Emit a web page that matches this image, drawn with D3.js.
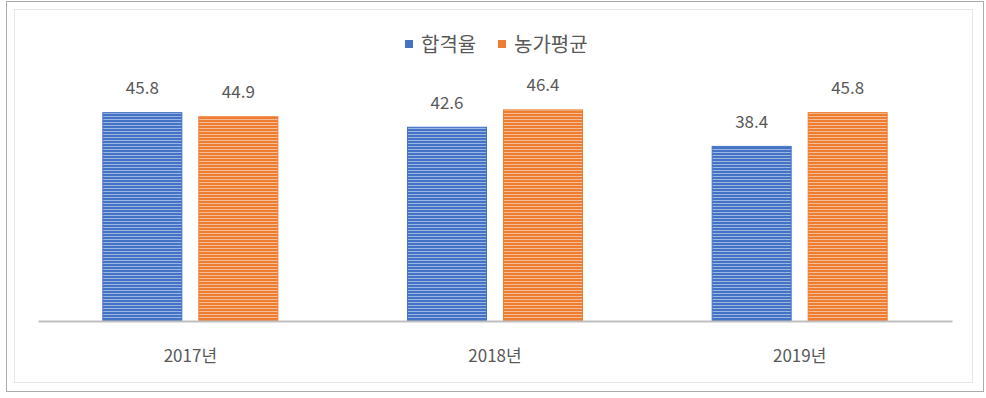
<!DOCTYPE html>
<html>
<head>
<meta charset="utf-8">
<script src="https://cdn.jsdelivr.net/npm/d3@7"></script>
<style>
  html, body { margin: 0; padding: 0; background: #fff; }
  svg { display: block; font-family: "Noto Sans CJK KR", "Noto Sans", sans-serif; }
</style>
</head>
<body>
<div id="chart"></div>
<script>
// 연도별 합격율과 농가평균
const categories = ["2017년", "2018년", "2019년"];
const seriesNames = ["합격율", "농가평균"];
const passRate = [45.8, 42.6, 38.4];
const farmAverage = [44.9, 46.4, 45.8];
const seriesColors = [
  { dark: "#4472C4", light: "#9DB5E2" },
  { dark: "#ED7D31", light: "#F6BC95" }
];

const width = 986, height = 398;
const margin = { left: 38, right: 34, top: 93, bottom: 77 };

const svg = d3.select("#chart").append("svg")
  .attr("width", width).attr("height", height);

// striped fill patterns
const defs = svg.append("defs");
seriesColors.forEach((c, i) => {
  const p = defs.append("pattern")
    .attr("id", "stripe" + i)
    .attr("patternUnits", "userSpaceOnUse")
    .attr("width", 8).attr("height", 3);
  p.append("rect").attr("width", 8).attr("height", 3).attr("fill", c.dark);
  p.append("rect").attr("y", 2).attr("width", 8).attr("height", 1).attr("fill", c.light);
});

// chart frames
svg.append("rect").attr("x", 6.5).attr("y", 1.5).attr("width", 977).attr("height", 390)
  .attr("fill", "none").attr("stroke", "#ABABAB").attr("stroke-width", 1);
svg.append("rect").attr("x", 14.5).attr("y", 9.5).attr("width", 958).attr("height", 373)
  .attr("fill", "none").attr("stroke", "#E6E6E6").attr("stroke-width", 1);

const x0 = d3.scaleBand()
  .domain(categories)
  .range([margin.left, width - margin.right])
  .paddingInner(0).paddingOuter(0);

const y = d3.scaleLinear()
  .domain([0, 50])
  .range([height - margin.bottom, margin.top]);

const barW = 80, barGap = 16;
const x1 = d3.scaleOrdinal()
  .domain([0, 1])
  .range([-barGap / 2 - barW, barGap / 2]);

const data = categories.map((c, i) => ({ cat: c, values: [passRate[i], farmAverage[i]] }));

const groups = svg.append("g").selectAll("g")
  .data(data).join("g")
  .attr("transform", d => `translate(${x0(d.cat) + x0.bandwidth() / 2},0)`);

groups.selectAll("rect")
  .data(d => d.values.map((v, k) => ({ v, k })))
  .join("rect")
  .attr("x", d => x1(d.k) + 0.5)
  .attr("y", d => y(d.v) + 0.5)
  .attr("width", barW - 1)
  .attr("height", d => y(0) - y(d.v) - 1)
  .attr("fill", d => `url(#stripe${d.k})`)
  .attr("stroke", d => seriesColors[d.k].dark)
  .attr("stroke-width", 1);

groups.selectAll("text.val")
  .data(d => d.values.map((v, k) => ({ v, k })))
  .join("text")
  .attr("class", "val")
  .attr("x", d => x1(d.k) + barW / 2)
  .attr("y", d => y(d.v) - 18)
  .attr("text-anchor", "middle")
  .attr("font-size", 17)
  .attr("fill", "#595959")
  .text(d => d.v.toFixed(1));

// category axis
const xAxis = d3.axisBottom(x0).tickSize(0).tickPadding(29);
const ax = svg.append("g")
  .attr("transform", `translate(0,${y(0)})`)
  .call(xAxis);
ax.select(".domain").attr("stroke", "#BFBFBF").attr("stroke-width", 2);
ax.selectAll("text").attr("font-size", 17).attr("fill", "#595959")
  .attr("font-family", "\"Noto Sans CJK KR\", sans-serif");

// legend
const legend = svg.append("g");
const legendItems = [
  { name: seriesNames[0], x: 405, color: seriesColors[0].dark },
  { name: seriesNames[1], x: 498, color: seriesColors[1].dark }
];
legendItems.forEach(it => {
  legend.append("rect").attr("x", it.x).attr("y", 40).attr("width", 8).attr("height", 8)
    .attr("fill", it.color);
  legend.append("text").attr("x", it.x + 16).attr("y", 52)
    .attr("font-size", 20).attr("fill", "#595959")
    .text(it.name);
});
</script>
</body>
</html>
